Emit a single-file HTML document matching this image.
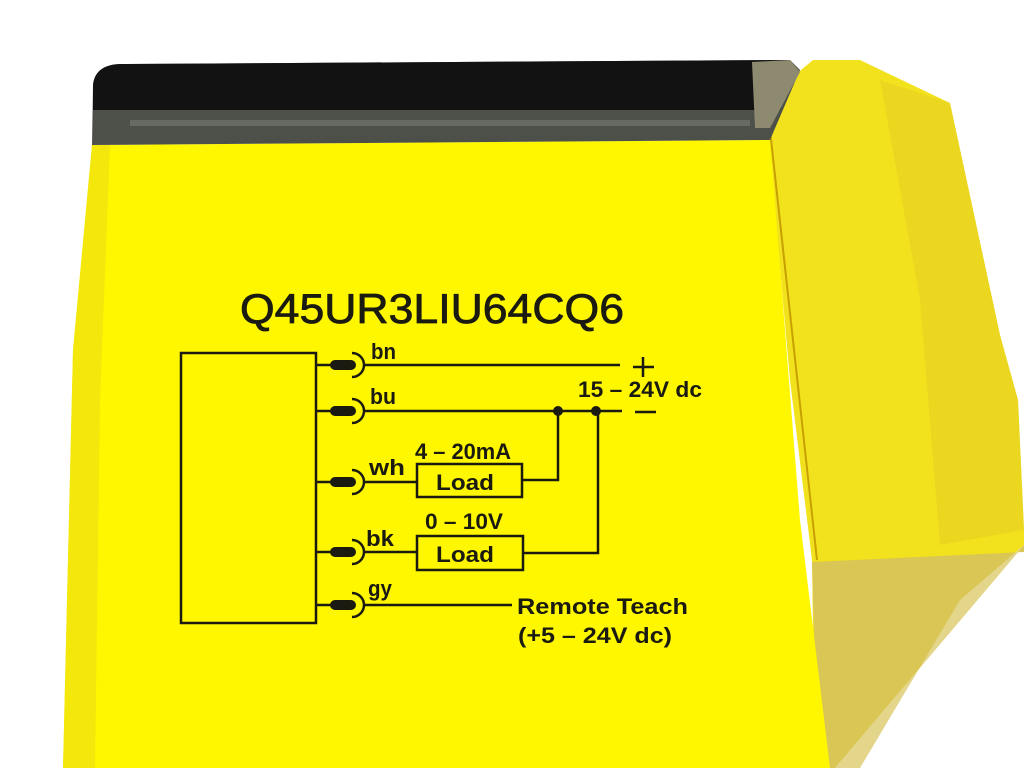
<!DOCTYPE html>
<html><head><meta charset="utf-8"><style>
html,body{margin:0;padding:0;background:#fff;width:1024px;height:768px;overflow:hidden}
svg{display:block}
text{font-family:"Liberation Sans",sans-serif;fill:#1a1a10}
</style></head><body>
<svg width="1024" height="768" viewBox="0 0 1024 768" xmlns="http://www.w3.org/2000/svg">
<rect width="1024" height="768" fill="#fff"/>
<polygon points="765,100 813,60 860,60 950,103 1000,335 1018,400 1024,530 1024,545 835,768 815,768 812,560 790,380" fill="#f2e21e"/>
<polygon points="880,80 950,103 1000,335 1018,400 1024,530 940,545 920,300" fill="#e8d420" opacity="0.8"/>
<polygon points="812,562 1024,552 1024,545 835,768 818,768" fill="#d9c654"/>
<polygon points="960,600 1024,545 835,768 860,768" fill="#e3d58a"/>
<polygon points="92,145 770,140 800,520 830,768 63,768 73,350" fill="#fff700"/>
<polygon points="63,768 73,350 92,145 110,145 100,400 95,768" fill="#eee010" opacity="0.7"/>
<line x1="770" y1="130" x2="817" y2="560" stroke="#c8a000" stroke-width="2"/>
<path d="M92,145 L93,85 Q95,65 120,64 L790,60 L800,70 L770,140 Z" fill="#4c5049"/>
<path d="M93,110 L93,85 Q95,65 120,64 L790,60 L795,70 L780,110 Z" fill="#121212"/>
<rect x="130" y="120" width="620" height="6" fill="#666a62"/>
<polygon points="752,62 790,60 800,72 770,128 755,128" fill="#8e8a70"/>
<text x="240" y="323" font-size="42" textLength="384" lengthAdjust="spacingAndGlyphs" stroke="#1a1a10" stroke-width="0.8">Q45UR3LIU64CQ6</text>
<g stroke="#1a1a10" stroke-width="2.5" fill="none">
<rect x="181" y="353" width="135" height="270"/>
<line x1="316" y1="365" x2="332" y2="365"/>
<line x1="316" y1="411" x2="332" y2="411"/>
<line x1="316" y1="482" x2="332" y2="482"/>
<line x1="316" y1="552" x2="332" y2="552"/>
<line x1="316" y1="605" x2="332" y2="605"/>
<path d="M352,353 A12,12 0 0 1 352,377"/>
<path d="M352,399 A12,12 0 0 1 352,423"/>
<path d="M352,470 A12,12 0 0 1 352,494"/>
<path d="M352,540 A12,12 0 0 1 352,564"/>
<path d="M352,593 A12,12 0 0 1 352,617"/>
<line x1="364" y1="365" x2="620" y2="365"/>
<line x1="364" y1="411" x2="622" y2="411"/>
<line x1="364" y1="482" x2="417" y2="482"/>
<line x1="364" y1="552" x2="417" y2="552"/>
<line x1="364" y1="605" x2="512" y2="605"/>
<rect x="417" y="464" width="105" height="33"/>
<rect x="417" y="536" width="106" height="34"/>
<polyline points="522,480 558,480 558,411"/>
<polyline points="523,553 598,553 598,411"/>
<line x1="633" y1="367" x2="654" y2="367"/>
<line x1="643" y1="357" x2="643" y2="377"/>
<line x1="635" y1="412" x2="656" y2="412"/>
</g>
<g fill="#1a1a10">
<rect x="330" y="360" width="26" height="10" rx="5"/>
<rect x="330" y="406" width="26" height="10" rx="5"/>
<rect x="330" y="477" width="26" height="10" rx="5"/>
<rect x="330" y="547" width="26" height="10" rx="5"/>
<rect x="330" y="600" width="26" height="10" rx="5"/>
<circle cx="558" cy="411" r="5"/>
<circle cx="596" cy="411" r="5"/>
</g>
<g font-size="22" font-weight="bold">
<text x="371" y="359" textLength="25" lengthAdjust="spacingAndGlyphs">bn</text>
<text x="370" y="404" textLength="26" lengthAdjust="spacingAndGlyphs">bu</text>
<text x="369" y="475" textLength="36" lengthAdjust="spacingAndGlyphs">wh</text>
<text x="366" y="546" textLength="28" lengthAdjust="spacingAndGlyphs">bk</text>
<text x="368" y="596" textLength="24" lengthAdjust="spacingAndGlyphs">gy</text>
<text x="578" y="397" textLength="124" lengthAdjust="spacingAndGlyphs">15 – 24V dc</text>
<text x="415" y="459" textLength="96" lengthAdjust="spacingAndGlyphs">4 – 20mA</text>
<text x="425" y="529" textLength="78" lengthAdjust="spacingAndGlyphs">0 – 10V</text>
<text x="436" y="490" textLength="58" lengthAdjust="spacingAndGlyphs">Load</text>
<text x="436" y="562" textLength="58" lengthAdjust="spacingAndGlyphs">Load</text>
<text x="517" y="614" textLength="171" lengthAdjust="spacingAndGlyphs">Remote Teach</text>
<text x="518" y="643" textLength="154" lengthAdjust="spacingAndGlyphs">(+5 – 24V dc)</text>
</g>
</svg>
</body></html>
